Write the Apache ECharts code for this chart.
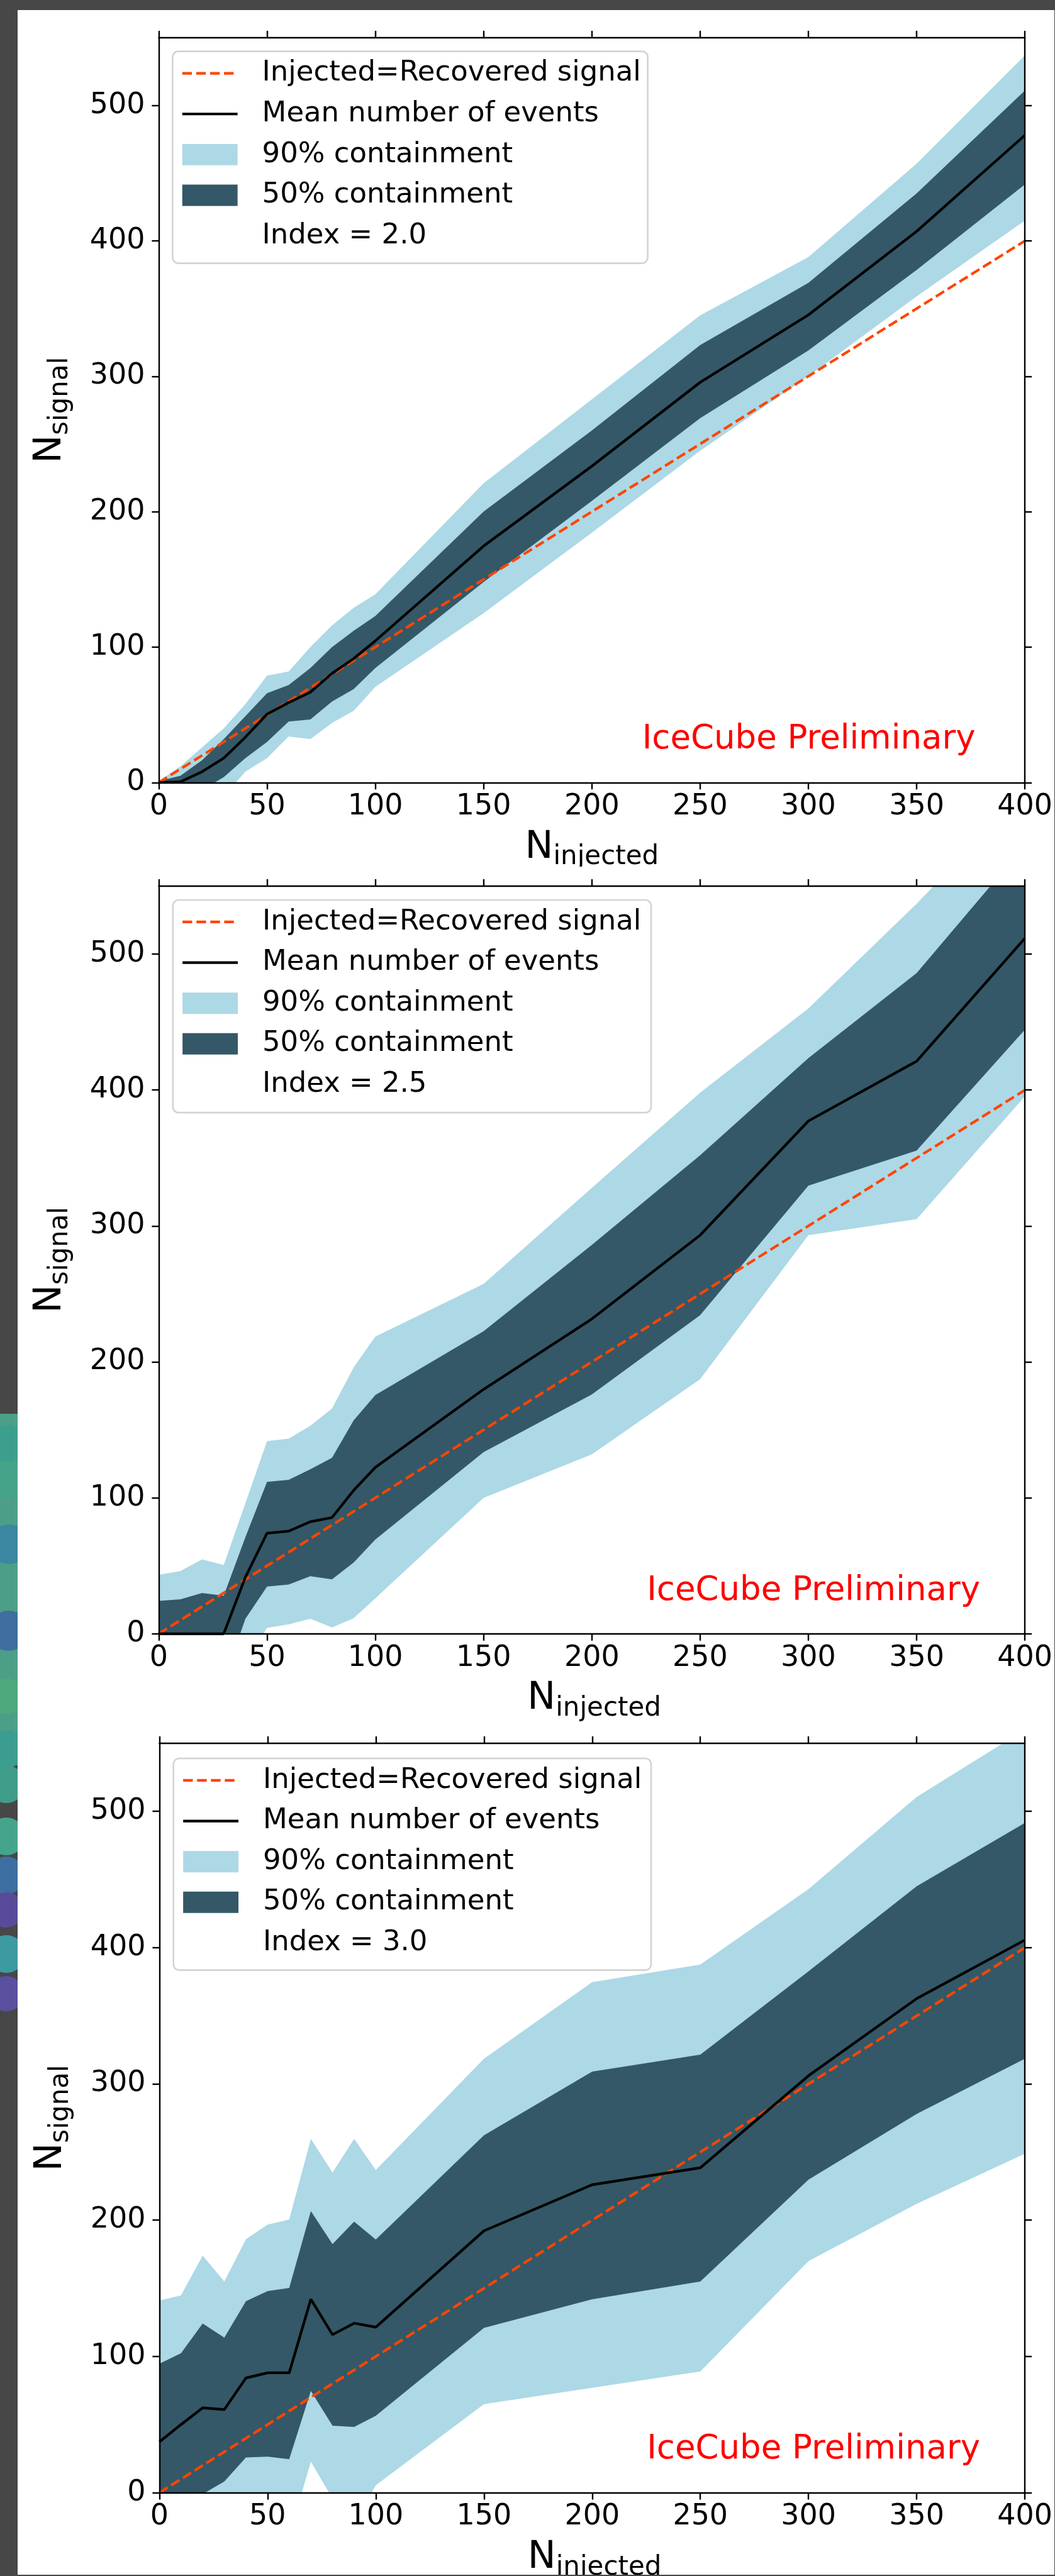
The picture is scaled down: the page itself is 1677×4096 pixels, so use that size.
<!DOCTYPE html>
<html lang="en">
<head>
<meta charset="UTF-8">
<title>Injected vs recovered signal</title>
<script src="https://cdn.jsdelivr.net/npm/echarts@6/dist/echarts.min.js"></script>
<style>
    html, body { margin: 0; padding: 0; }
    body { width: 1677px; height: 4096px; background: #474747; position: relative; overflow: hidden; }
    .panel { position: absolute; background: #fff; overflow: hidden; }
    .blob { position: absolute; border-radius: 50%; }
</style>
</head>
<body>
<div id="strip" style="position:absolute;left:0;top:2250px;width:28px;height:560px;background:#4c9f86;"></div>
<div id="p1" class="panel"></div>
<div id="p2" class="panel"></div>
<div id="p3" class="panel"></div>
<script type="text/javascript">
    // injected number of events (x positions of every band / line point)
    var nInjected = [0, 10, 20, 30, 40, 50, 60, 70, 80, 90, 100, 150, 200, 250, 300, 350, 400];

    // spectral index 2.0
    var hi90_20 = [1, 12, 26, 40, 58, 79, 82, 100, 116, 129, 139, 221, 283, 345, 388, 457, 537];
    var hi50_20 = [1, 5, 16.5, 32, 49, 66, 72, 84.5, 100, 112, 123, 200, 260, 323, 369, 435, 511];
    var mean_20 = [0, 0.5, 8, 18, 33.5, 50.5, 59, 66.7, 80.6, 91.5, 104.6, 174.6, 233.6, 295.5, 345.3, 407, 478];
    var lo50_20 = [0, -3, -5.5, 4, 18, 30, 45, 46.6, 59.8, 69, 84.5, 148, 208, 269, 319, 378.5, 441.7];
    var lo90_20 = [-5, -8, -12, -10, 8, 18, 34, 32, 44, 53, 70.6, 125, 184.5, 245, 300, 359, 415];

    // spectral index 2.5
    var hi90_25 = [43.4, 46.2, 54.7, 50.5, 96, 141.7, 143.5, 153, 165.6, 196, 218.6, 257.4, 328, 398, 460, 537, 620];
    var hi50_25 = [24.2, 25.4, 30, 28, 71, 111.7, 113.2, 121, 129.4, 157, 175.6, 222.6, 286, 352, 423.4, 486, 580];
    var mean_25 = [0, 0, 0, 0, 41.6, 74, 75.5, 82.4, 85.5, 105.5, 122.4, 179.8, 231.6, 293.2, 377.2, 421.2, 511.6];
    var lo50_25 = [-40, -40, -40, -35, 11, 34.7, 36.2, 42.4, 40, 52.4, 69.3, 133.6, 176, 234.4, 329.6, 355.4, 444.4];
    var lo90_25 = [-60, -60, -60, -50, -20, 4.3, 7, 11, 4.6, 11.5, 26, 100, 132, 187.3, 293.2, 305, 395.4];

    // spectral index 3.0
    var hi90_30 = [141, 144.8, 174, 155, 186, 196.7, 200.4, 259.6, 235, 259.6, 236.8, 318.5, 374.7, 387.6, 443, 510.6, 560];
    var hi50_30 = [94.7, 102.4, 124.2, 113.8, 140.6, 148, 150.3, 206.7, 182.5, 199, 185.8, 262.3, 309, 321.5, 382.6, 445, 491.5];
    var mean_30 = [37.3, 50, 62.3, 61, 84.2, 88, 88, 142, 116, 124.4, 121.5, 192.2, 226, 238.5, 306, 362.6, 405.6];
    var lo50_30 = [-15, -8, -1, 8.2, 25.9, 26.4, 24.6, 74.7, 49.2, 48.3, 56.5, 121, 142, 155, 229.7, 278, 318.5];
    var lo90_30 = [-40, -35, -30, -25, -20, -20, -31.5, 22.8, -4.3, -22, 5.5, 65, 77, 89, 170, 212, 248.8];

    // injected = recovered reference line
    var diagX = [0, 400];
    var diagY = [0, 400];

    var yTicks = [0, 100, 200, 300, 400, 500];
    var legendNames = ['Injected=Recovered signal', 'Mean number of events', '90% containment', '50% containment'];
    var indexLabels = ['Index = 2.0', 'Index = 2.5', 'Index = 3.0'];
    var watermark = 'IceCube Preliminary';

    var S = 0.999;   // whole picture drawn at 0.999 of the reference
    function s(v) { return v * S; }

    var FONT = 'DejaVu Sans';
    var LIGHT = '#add8e6';
    var DARK = '#345867';
    var ORANGE = '#ff4500';

    // left strip decoration (bits of the background picture)
    var blobs = [
        [10, 2297, 30, '#3c9f8e'], [8, 2355, 30, '#45a38a'], [14, 2458, 32, '#3b86a0'],
        [14, 2596, 32, '#3f6e9f'], [10, 2700, 28, '#4caa7c'], [10, 2784, 30, '#3a9d90'],
        [10, 2840, 30, '#3f9d8a'], [10, 2923, 30, '#45a58c'], [10, 2985, 30, '#3d6fa2'],
        [10, 3040, 28, '#5a4a9a'], [10, 3110, 30, '#3c9aa0'], [10, 3173, 28, '#5b4fa0']
    ];
    blobs.forEach(function (b) {
        var d = document.createElement('div');
        d.className = 'blob';
        d.style.left = s(b[0] - b[2]) + 'px';
        d.style.top = s(b[1] - b[2]) + 'px';
        d.style.width = s(2 * b[2]) + 'px';
        d.style.height = s(2 * b[2]) + 'px';
        d.style.background = b[3];
        document.body.insertBefore(d, document.getElementById('p1'));
    });
    var strip = document.getElementById('strip');
    strip.style.top = s(2250) + 'px';
    strip.style.height = s(560) + 'px';
    strip.style.width = s(28) + 'px';

    // panel boxes and plot areas, in reference pixels
    var panels = [
        { id: 'p1', box: [28, 16, 1650, 1363], grid: [224.6, 44, 1378.4, 1185.5], legend: [246.6, 65.7, 756, 337.3],
          hi90: hi90_20, hi50: hi50_20, mean: mean_20, lo50: lo50_20, lo90: lo90_20, index: indexLabels[0] },
        { id: 'p2', box: [28, 1379, 1650, 1361], grid: [224.6, 31, 1385.9, 1190], legend: [247, 53, 761, 338.5],
          hi90: hi90_25, hi50: hi50_25, mean: mean_25, lo50: lo50_25, lo90: lo90_25, index: indexLabels[1] },
        { id: 'p3', box: [28, 2740, 1650, 1358], grid: [225.6, 34.9, 1384.9, 1192.9], legend: [248, 59, 760, 337],
          hi90: hi90_30, hi50: hi50_30, mean: mean_30, lo50: lo50_30, lo90: lo90_30, index: indexLabels[2] }
    ];

    function pairs(xs, ys) {
        return xs.map(function (x, i) { return [x, ys[i]]; });
    }

    // filled band between lo and hi, one polygon placed through the axes
    function band(name, lo, hi, color) {
        return {
            type: 'custom', name: name, silent: true, clip: true, z: 1,
            data: [[0, 0]],
            renderItem: function (params, api) {
                var pts = [];
                for (var i = 0; i < nInjected.length; i++) pts.push(api.coord([nInjected[i], hi[i]]));
                for (var j = nInjected.length - 1; j >= 0; j--) pts.push(api.coord([nInjected[j], lo[j]]));
                return { type: 'polygon', shape: { points: pts }, style: { fill: color } };
            }
        };
    }

    var spine = { color: '#000', width: s(2.4) };
    var tick = { length: s(11), lineStyle: { color: '#000', width: s(2.4) } };

    function legendGraphic(b, indexText) {
        var x0 = s(b[0]), y0 = s(b[1]);
        var rows = [35, 99.7, 164.4, 229.1, 293.8];
        var hx1 = x0 + s(15.4), hx2 = x0 + s(103.4), tx = x0 + s(142.4);
        var kids = [
            { type: 'rect', shape: { x: x0, y: y0, width: s(b[2]), height: s(b[3]), r: s(9) },
              style: { fill: 'rgba(255,255,255,0.8)', stroke: '#d3d3d3', lineWidth: s(2.6) } },
            { type: 'line', shape: { x1: hx1, y1: y0 + s(rows[0]), x2: hx2, y2: y0 + s(rows[0]) },
              style: { stroke: ORANGE, lineWidth: s(4.2), lineDash: [s(15.4), s(6.7)] } },
            { type: 'line', shape: { x1: hx1, y1: y0 + s(rows[1]), x2: hx2, y2: y0 + s(rows[1]) },
              style: { stroke: '#000', lineWidth: s(4.2) } },
            { type: 'rect', shape: { x: hx1, y: y0 + s(rows[2] - 17), width: s(88), height: s(34) },
              style: { fill: LIGHT } },
            { type: 'rect', shape: { x: hx1, y: y0 + s(rows[3] - 17), width: s(88), height: s(34) },
              style: { fill: DARK } }
        ];
        var texts = legendNames.concat([indexText]);
        texts.forEach(function (t, i) {
            kids.push({ type: 'text', x: tx, y: y0 + s(rows[i]),
                style: { text: t, font: s(45) + 'px "' + FONT + '"', fill: '#000', align: 'left', verticalAlign: 'middle' } });
        });
        return { type: 'group', z: 10, children: kids };
    }

    function axisTitles(g) {
        var gl = s(g[0]), gt = s(g[1]), gw = s(g[2]), gh = s(g[3]);
        var fN = s(60), fSub = s(42);
        var out = [];
        // x title: N_injected
        var wN = 0.748 * fN, wInj = 3.997 * fSub;
        var x0 = gl + gw / 2 - (wN + wInj) / 2;
        var baseN = gt + gh + s(125), baseSub = baseN + s(9);
        out.push({ type: 'text', x: x0, y: baseN - 0.35 * fN,
            style: { text: 'N', font: fN + 'px "' + FONT + '"', fill: '#000', align: 'left', verticalAlign: 'middle' } });
        out.push({ type: 'text', x: x0 + wN, y: baseSub - 0.35 * fSub,
            style: { text: 'injected', font: fSub + 'px "' + FONT + '"', fill: '#000', align: 'left', verticalAlign: 'middle' } });
        // y title: N_signal, rotated, reading upwards
        var wSig = 2.959 * fSub;
        var y0 = gt + gh / 2 + (wN + wSig) / 2;
        var bx = gl - s(151), bxSub = bx + s(9);
        out.push({ type: 'text', x: bx - 0.35 * fN, y: y0, rotation: Math.PI / 2,
            style: { text: 'N', font: fN + 'px "' + FONT + '"', fill: '#000', align: 'left', verticalAlign: 'middle' } });
        out.push({ type: 'text', x: bxSub - 0.35 * fSub, y: y0 - wN, rotation: Math.PI / 2,
            style: { text: 'signal', font: fSub + 'px "' + FONT + '"', fill: '#000', align: 'left', verticalAlign: 'middle' } });
        // watermark
        out.push({ type: 'text', x: gl + gw - s(79), y: gt + gh - s(68),
            style: { text: watermark, font: s(53) + 'px "' + FONT + '"', fill: '#ff0000', align: 'right', verticalAlign: 'middle' } });
        return out;
    }

    panels.forEach(function (p) {
        var el = document.getElementById(p.id);
        el.style.left = s(p.box[0]) + 'px';
        el.style.top = s(p.box[1]) + 'px';
        el.style.width = s(p.box[2]) + 'px';
        el.style.height = s(p.box[3]) + 'px';
        var chart = echarts.init(el, null, { renderer: 'canvas' });
        var g = p.grid;
        var xBase = { type: 'value', min: 0, max: 400, interval: 50, z: 5, splitLine: { show: false },
            axisLine: { onZero: false, lineStyle: spine }, axisTick: tick };
        var yBase = { type: 'value', min: 0, max: 550, z: 5, splitLine: { show: false },
            axisLine: { onZero: false, lineStyle: spine },
            axisTick: { length: tick.length, lineStyle: tick.lineStyle, customValues: yTicks } };
        var series = [
            band('90% containment', p.lo90, p.hi90, LIGHT),
            band('50% containment', p.lo50, p.hi50, DARK),
            { type: 'line', name: legendNames[0], symbol: 'none', silent: true, z: 3,
              lineStyle: { color: ORANGE, width: s(4.2), type: [s(15.4), s(6.7)] },
              data: pairs(diagX, diagY) },
            { type: 'line', name: legendNames[1], symbol: 'none', silent: true, z: 3,
              lineStyle: { color: '#000', width: s(4.2) },
              data: pairs(nInjected, p.mean) }
        ];
        chart.setOption({
            animation: false,
            grid: { left: s(g[0]), top: s(g[1]), width: s(g[2]), height: s(g[3]) },
            xAxis: [
                Object.assign({}, xBase, { position: 'bottom',
                    axisLabel: { color: '#000', fontSize: s(46), fontFamily: FONT, margin: s(16) } }),
                Object.assign({}, xBase, { position: 'top', axisLabel: { show: false } })
            ],
            yAxis: [
                Object.assign({}, yBase, { position: 'left',
                    axisLabel: { color: '#000', fontSize: s(46), fontFamily: FONT, margin: s(22), customValues: yTicks } }),
                Object.assign({}, yBase, { position: 'right', axisLabel: { show: false } })
            ],
            series: series,
            graphic: axisTitles(g).concat([legendGraphic(p.legend, p.index)])
        });
    });
</script>
</body>
</html>
